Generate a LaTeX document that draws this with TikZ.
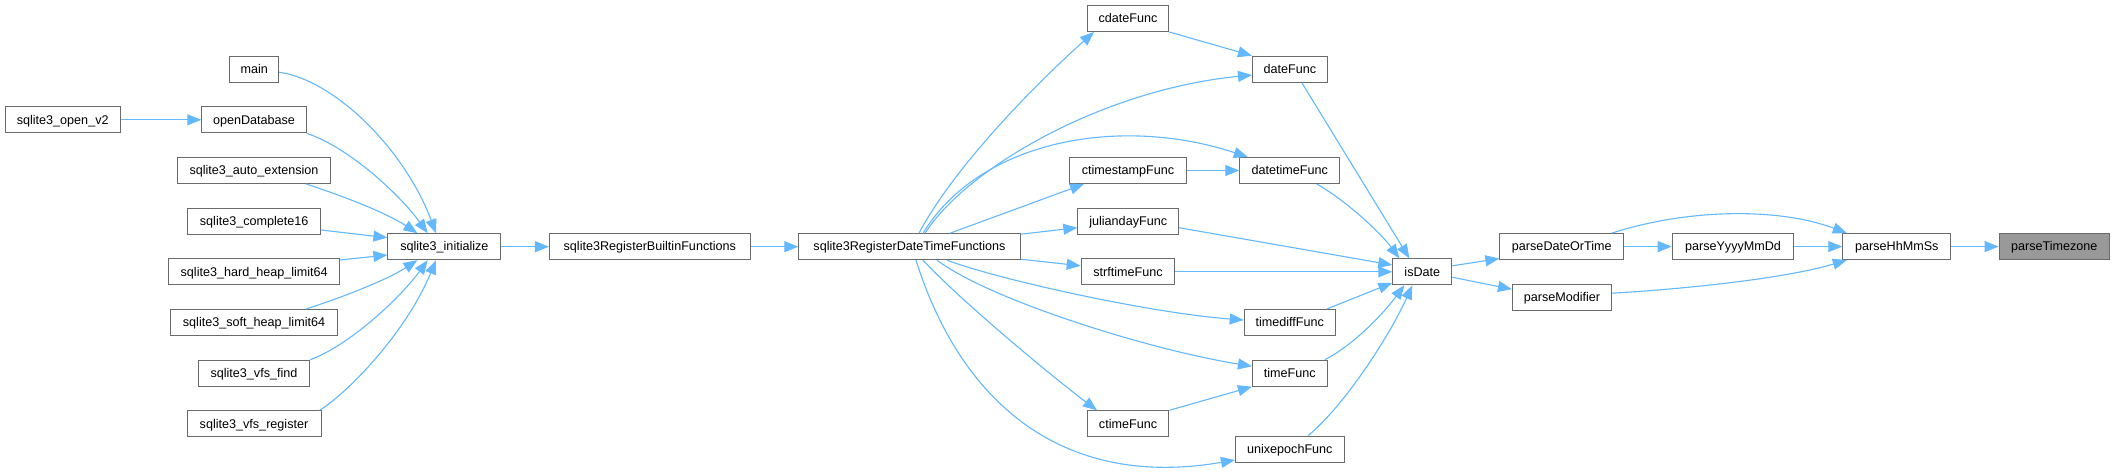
\documentclass[tikz,border=0pt]{standalone}
\usepackage{fontspec}
\setmainfont{Liberation Sans}
\usetikzlibrary{arrows.meta}
\definecolor{edgeblue}{HTML}{63B8FF}
\definecolor{boxgray}{HTML}{6A6A6A}
\definecolor{hlgray}{HTML}{999999}
\begin{document}
\begin{tikzpicture}[x=1pt,y=-1pt,
  fn/.style={rectangle, draw=boxgray, line width=1pt, fill=white, inner sep=0pt,
    minimum height=26pt, minimum width=#1*1pt-1pt,
    text height=11pt, text depth=2.6pt,
    font=\fontsize{12.6}{15}\selectfont, text=black},
  hl/.style={fill=hlgray},
  edge/.style={draw=edgeblue, line width=1.1pt, -{Triangle[length=14pt,width=11pt]}}]
\useasboundingbox[fill=white] (0,0) rectangle (2115,474);

% nodes
\node[fn=116]   (openv2)  at (62.7,119.8)  {sqlite3\_open\_v2};
\node[fn=49.7]  (main)    at (254.2,69.2)  {main};
\node[fn=105.4] (opendb)  at (254,119.8)   {openDatabase};
\node[fn=154.5] (autoext) at (254,170.5)   {sqlite3\_auto\_extension};
\node[fn=134]   (comp)    at (254.2,221.2) {sqlite3\_complete16};
\node[fn=171.6] (hard)    at (254.2,271.8) {sqlite3\_hard\_heap\_limit64};
\node[fn=168.7] (soft)    at (254,322.5)   {sqlite3\_soft\_heap\_limit64};
\node[fn=112.5] (vfsfind) at (254,373.2)   {sqlite3\_vfs\_find};
\node[fn=135]   (vfsreg)  at (254,423.8)   {sqlite3\_vfs\_register};
\node[fn=114]   (init)    at (444.4,246.7) {sqlite3\_initialize};
\node[fn=201.7] (builtin) at (649.8,246.7) {sqlite3RegisterBuiltinFunctions};
\node[fn=222.4] (dtf)     at (909.5,246.7) {sqlite3RegisterDateTimeFunctions};
\node[fn=82.6]  (cdate)   at (1128,18.5)   {cdateFunc};
\node[fn=75.7]  (datef)   at (1289.8,69.2) {dateFunc};
\node[fn=118.6] (ctimestamp) at (1128,170.5) {ctimestampFunc};
\node[fn=101]   (datetimef) at (1289.8,170.5) {datetimeFunc};
\node[fn=101.7] (jul)     at (1128.2,221.3) {juliandayFunc};
\node[fn=94.6]  (strf)    at (1128,271.8)  {strftimeFunc};
\node[fn=60]    (isdate)  at (1422.3,271.8) {isDate};
\node[fn=92.3]  (timediff) at (1289.8,322.5) {timediffFunc};
\node[fn=75.7]  (timef)   at (1289.8,373.2) {timeFunc};
\node[fn=82.6]  (ctime)   at (1128,423.8)  {ctimeFunc};
\node[fn=109.7] (unix)    at (1289.8,449)  {unixepochFunc};
\node[fn=125]   (pdt)     at (1561.8,246.6) {parseDateOrTime};
\node[fn=100]   (pmod)    at (1562,297.2)  {parseModifier};
\node[fn=122.6] (pymd)    at (1733,246.6)  {parseYyyyMmDd};
\node[fn=109]   (phms)    at (1896.8,246.6) {parseHhMmSs};
\node[fn=111.3,hl] (ptz)  at (2054.3,246.6) {parseTimezone};

% left part
\draw[edge] (openv2.east) -- (opendb.west);
\draw[edge] ([yshift=-3pt]main.east) .. controls (335,80) and (405,150) .. ([xshift=-8.4pt]init.north);
\draw[edge] (opendb.south east) .. controls (350,148) and (400,195) .. ([xshift=-16.7pt]init.north);
\draw[edge] ([xshift=52pt]autoext.south) .. controls (340,195) and (385,212) .. ([xshift=-27pt]init.north);
\draw[edge] ([yshift=-8.8pt]comp.east) -- ([yshift=9pt]init.west);
\draw[edge] ([yshift=11.8pt]hard.east) -- ([yshift=-8.3pt]init.west);
\draw[edge] ([xshift=52pt]soft.north) .. controls (340,298) and (385,281) .. ([xshift=-27pt]init.south);
\draw[edge] (vfsfind.north east) .. controls (350,345) and (400,298) .. ([xshift=-16.7pt]init.south);
\draw[edge] ([xshift=-2pt]vfsreg.north east) .. controls (345,395) and (405,335) .. ([xshift=-8.4pt]init.south);
\draw[edge] (init.east) -- (builtin.west);
\draw[edge] (builtin.east) -- (dtf.west);

% from sqlite3RegisterDateTimeFunctions
\draw[edge] ([xshift=9.5pt]dtf.north) .. controls (955,165) and (1040,80) .. ([xshift=-34pt]cdate.south);
\draw[edge] ([xshift=15.5pt]dtf.north) .. controls (965,170) and (1100,90) .. ([yshift=-5.8pt]datef.west);
\draw[edge] ([xshift=13.5pt]dtf.north) .. controls (980,140) and (1120,115) .. ([xshift=-42pt]datetimef.north);
\draw[edge] ([xshift=40.5pt]dtf.north) -- ([xshift=-44pt]ctimestamp.south);
\draw[edge] ([yshift=-1pt]dtf.north east) -- ([yshift=-6.4pt]jul.west);
\draw[edge] ([yshift=1pt]dtf.south east) -- ([yshift=6pt]strf.west);
\draw[edge] ([xshift=37.5pt]dtf.south) .. controls (1000,280) and (1150,313) .. ([yshift=2.5pt]timediff.west);
\draw[edge] ([xshift=27.5pt]dtf.south) .. controls (990,300) and (1150,350) .. ([yshift=7pt]timef.west);
\draw[edge] ([xshift=13.5pt]dtf.south) .. controls (960,300) and (1050,375) .. ([xshift=-31pt]ctime.north);
\draw[edge] ([xshift=6.5pt]dtf.south) .. controls (960,400) and (1060,490) .. ([yshift=-11pt]unix.west);

% middle
\draw[edge] (cdate.south east) -- (datef.north west);
\draw[edge] (ctimestamp.east) -- (datetimef.west);
\draw[edge] (ctime.north east) -- (timef.south west);

% to isDate
\draw[edge] ([xshift=12pt]datef.south) -- ([xshift=-13pt]isdate.north);
\draw[edge] ([xshift=27pt]datetimef.south) .. controls (1345,200) and (1380,232) .. ([xshift=-23pt]isdate.north);
\draw[edge] ([yshift=-6.4pt]jul.east) -- ([yshift=6.8pt]isdate.west);
\draw[edge] (strf.east) -- (isdate.west);
\draw[edge] ([xshift=37pt]timediff.north) -- ([yshift=-11pt]isdate.west);
\draw[edge] ([xshift=35pt]timef.north) .. controls (1350,347) and (1380,318) .. ([xshift=-18pt]isdate.south);
\draw[edge] ([xshift=18.5pt]unix.north) .. controls (1345,405) and (1390,335) .. ([xshift=-10pt]isdate.south);

% right part
\draw[edge] ([yshift=6pt]isdate.east) -- ([yshift=-12pt]pdt.west);
\draw[edge] ([yshift=-5.5pt]isdate.east) -- ([yshift=8pt]pmod.west);
\draw[edge] (pdt.east) -- (pymd.west);
\draw[edge] ([xshift=50pt]pdt.north) .. controls (1690,208) and (1780,208) .. ([xshift=-50pt]phms.north);
\draw[edge] (pymd.east) -- (phms.west);
\draw[edge] ([yshift=4pt]pmod.east) .. controls (1700,288) and (1790,277) .. ([xshift=-50pt]phms.south);
\draw[edge] (phms.east) -- (ptz.west);
\end{tikzpicture}
\end{document}
